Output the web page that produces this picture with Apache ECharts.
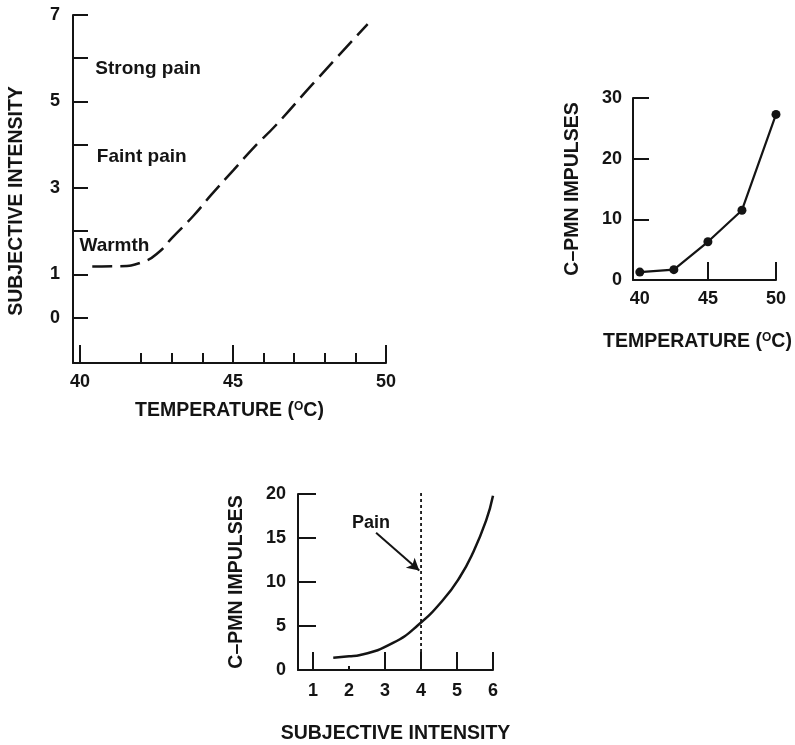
<!DOCTYPE html>
<html><head><meta charset="utf-8">
<script src="https://cdn.jsdelivr.net/npm/echarts@6/dist/echarts.min.js"></script>
<style>html,body{margin:0;padding:0;background:#fff}#c{width:795px;height:745px}</style>
</head><body><div id="c"></div>
<script>
// ---- Panel A: subjective intensity vs temperature ----
const tempA = [40.4, 41.3, 42.1, 42.6, 43.0, 43.7, 44.3, 45.0, 45.7, 46.4, 47.6, 49.4];
const intensityA = [1.18, 1.19, 1.3, 1.53, 1.84, 2.35, 2.85, 3.4, 3.95, 4.45, 5.4, 6.79];
const labelsA = ['Strong pain', 'Faint pain', 'Warmth'];
const labelXA = [40.5, 40.55, 39.98];
const labelYA = [5.75, 3.72, 1.67];
const yTicksA = [0, 1, 2, 3, 4, 5, 6, 7];
const yLabelsA = [0, 1, 3, 5, 7];
const xMajorA = [40, 45, 50];
const xMinorA = [42, 43, 44, 46, 47, 48, 49];
// ---- Panel B: C-PMN impulses vs temperature ----
const tempB = [40, 42.5, 45, 47.5, 50];
const impulsesB = [1.3, 1.7, 6.3, 11.5, 27.3];
const xTicksB = [45, 50];
const xLabelsB = [40, 45, 50];
const yTicksB = [10, 20, 30];
const yLabelsB = [0, 10, 20, 30];
// ---- Panel C: C-PMN impulses vs subjective intensity ----
const intensityC = [1.56, 2.0, 2.31, 3.22, 3.92, 4.61, 5.08, 5.44, 5.81, 6.0];
const impulsesC = [1.4, 1.55, 1.7, 3.07, 5.11, 7.95, 10.57, 13.3, 17.0, 19.8];
const xTicksC = [1, 3, 4, 5, 6];
const xMinorC = [2];
const xLabelsC = [1, 2, 3, 4, 5, 6];
const yTicksC = [5, 10, 15, 20];
const yLabelsC = [0, 5, 10, 15, 20];
const painX = 4;
const painY = [0, 20.4];
const painArrowFrom = [2.75, 15.6];
const painArrowTo = [3.95, 11.3];
const painLabel = {name: 'Pain', x: 2.08, y: 16.7};

const FONT = '"Liberation Sans", Arial, Helvetica, sans-serif';
const INK = '#141414';
const zip = (a, b) => a.map((v, i) => [v, b[i]]);

const tickFont = {color: INK, fontFamily: FONT, fontWeight: 'bold', fontSize: 18};
const nameStyle = {
  color: INK, fontFamily: FONT, fontWeight: 'bold', fontSize: 19.5,
  rich: {sup: {fontSize: 12, verticalAlign: 'top', fontFamily: FONT, fontWeight: 'bold', color: INK, lineHeight: 14}}
};
const axisLine = {show: true, onZero: false, lineStyle: {color: INK, width: 2}};
const tempName = 'TEMPERATURE ({sup|O}C)';

function mkAxis(o) {
  return Object.assign({
    type: 'value', splitLine: {show: false}, axisLine: axisLine,
    nameLocation: 'middle', nameTextStyle: nameStyle
  }, o);
}
const hiddenLine = {show: false, onZero: false};

const option = {
  backgroundColor: '#fff',
  animation: false,
  grid: [
    {left: 73, top: 15, width: 313, height: 348, outerBoundsMode: 'none', containLabel: false},
    {left: 633, top: 98, width: 143, height: 182, outerBoundsMode: 'none', containLabel: false},
    {left: 298, top: 494, width: 195, height: 176, outerBoundsMode: 'none', containLabel: false}
  ],
  xAxis: [
    mkAxis({gridIndex: 0, position: 'bottom', min: 39.77, max: 50,
      axisTick: {show: true, inside: true, length: 18, customValues: xMajorA, lineStyle: {color: INK, width: 2}},
      axisLabel: {customValues: xMajorA, margin: 10, ...tickFont},
      name: tempName, nameGap: 38}),
    mkAxis({gridIndex: 0, position: 'bottom', min: 39.77, max: 50, axisLine: hiddenLine,
      axisTick: {show: true, inside: true, length: 10, customValues: xMinorA, lineStyle: {color: INK, width: 2}},
      axisLabel: {show: false}}),
    mkAxis({gridIndex: 1, position: 'bottom', min: 39.5, max: 50,
      axisTick: {show: true, inside: true, length: 18, customValues: xTicksB, lineStyle: {color: INK, width: 2}},
      axisLabel: {customValues: xLabelsB, margin: 10, ...tickFont},
      name: tempName, nameGap: 52,
      nameTextStyle: Object.assign({}, nameStyle, {padding: [0, 14, 0, 0]})}),
    mkAxis({gridIndex: 2, position: 'bottom', min: 0.58, max: 6,
      axisTick: {show: true, inside: true, length: 18, customValues: xTicksC, lineStyle: {color: INK, width: 2}},
      axisLabel: {customValues: xLabelsC, margin: 12, ...tickFont},
      name: 'SUBJECTIVE INTENSITY', nameGap: 54}),
    mkAxis({gridIndex: 2, position: 'bottom', min: 0.58, max: 6, axisLine: hiddenLine,
      axisTick: {show: true, inside: true, length: 4, customValues: xMinorC, lineStyle: {color: INK, width: 2}},
      axisLabel: {show: false}})
  ],
  yAxis: [
    mkAxis({gridIndex: 0, position: 'left', min: -1.05, max: 7,
      axisTick: {show: true, inside: true, length: 15, customValues: yTicksA, lineStyle: {color: INK, width: 2}},
      axisLabel: {customValues: yLabelsA, margin: 13, ...tickFont},
      name: 'SUBJECTIVE INTENSITY', nameGap: 46,
      nameTextStyle: Object.assign({}, nameStyle, {padding: [0, 24, 0, 0]})}),
    mkAxis({gridIndex: 1, position: 'left', min: 0, max: 30,
      axisTick: {show: true, inside: true, length: 16, customValues: yTicksB, lineStyle: {color: INK, width: 2}},
      axisLabel: {customValues: yLabelsB, margin: 11, ...tickFont},
      name: 'C\u2013PMN IMPULSES', nameGap: 50}),
    mkAxis({gridIndex: 2, position: 'left', min: 0, max: 20,
      axisTick: {show: true, inside: true, length: 18, customValues: yTicksC, lineStyle: {color: INK, width: 2}},
      axisLabel: {customValues: yLabelsC, margin: 12, ...tickFont},
      name: 'C\u2013PMN IMPULSES', nameGap: 51})
  ],
  series: [
    {type: 'line', xAxisIndex: 0, yAxisIndex: 0, data: zip(tempA, intensityA),
      showSymbol: false, smooth: 0.5,
      lineStyle: {color: INK, width: 2.5, type: [20, 8]}},
    {type: 'scatter', xAxisIndex: 0, yAxisIndex: 0, symbolSize: 0,
      itemStyle: {opacity: 1},
      data: labelsA.map((n, i) => ({name: n, value: [labelXA[i], labelYA[i]]})),
      label: {show: true, position: 'right', distance: 0, formatter: '{b}', opacity: 1,
        color: INK, fontFamily: FONT, fontWeight: 'bold', fontSize: 19}},
    {type: 'line', xAxisIndex: 2, yAxisIndex: 1, data: zip(tempB, impulsesB),
      symbol: 'circle', symbolSize: 9, itemStyle: {color: INK},
      lineStyle: {color: INK, width: 2.2}},
    {type: 'line', xAxisIndex: 3, yAxisIndex: 2, data: zip(intensityC, impulsesC),
      showSymbol: false, smooth: 0.5,
      lineStyle: {color: INK, width: 2.5}},
    {type: 'line', xAxisIndex: 3, yAxisIndex: 2, data: painY.map(v => [painX, v]),
      showSymbol: false, clip: false,
      lineStyle: {color: INK, width: 1.8, type: [3, 3]},
      markLine: {silent: true, symbol: ['none', 'arrow'], symbolSize: [10, 12],
        lineStyle: {color: INK, width: 2, type: 'solid'}, label: {show: false},
        data: [[{coord: painArrowFrom}, {coord: painArrowTo}]]}},
    {type: 'scatter', xAxisIndex: 3, yAxisIndex: 2, symbolSize: 0,
      itemStyle: {opacity: 1},
      data: [{name: painLabel.name, value: [painLabel.x, painLabel.y]}],
      label: {show: true, position: 'right', distance: 0, formatter: '{b}', opacity: 1,
        color: INK, fontFamily: FONT, fontWeight: 'bold', fontSize: 18}}
  ]
};
const chart = echarts.init(document.getElementById('c'), null, {renderer: 'canvas'});
chart.setOption(option);
</script>
</body></html>
